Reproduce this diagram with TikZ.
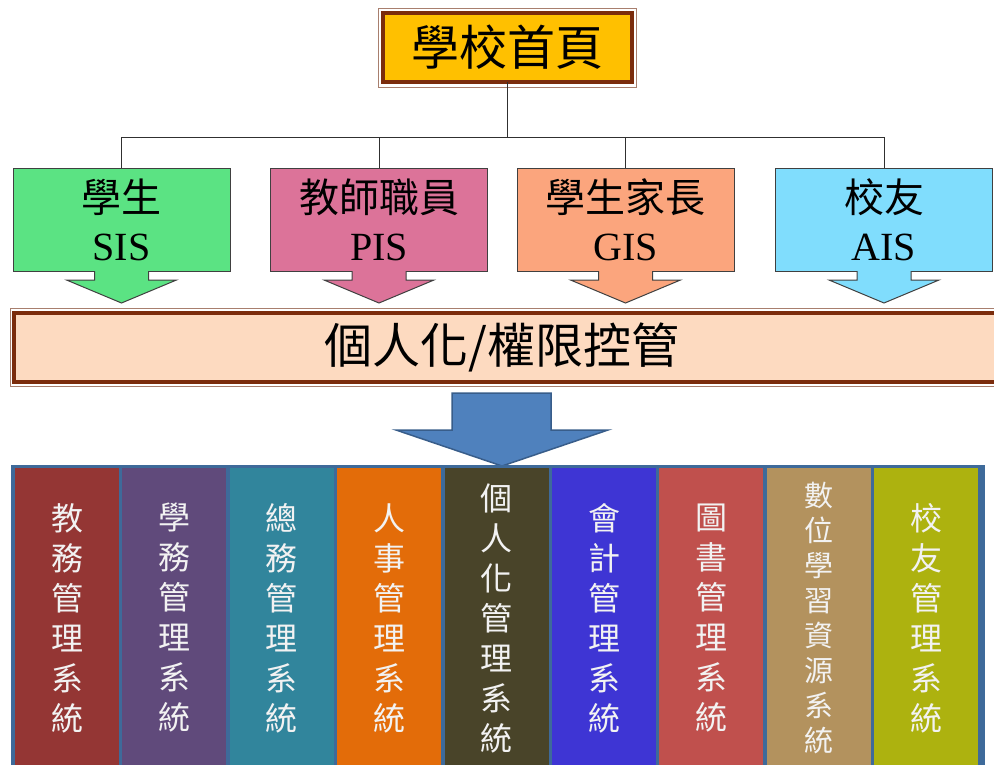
\documentclass[tikz,border=0pt]{standalone}
\usepackage{fontspec}
\setmainfont{Noto Sans CJK TC}
\newfontfamily\latinserif{Liberation Serif}
\usetikzlibrary{positioning}
\usetikzlibrary{calc}

\begin{document}
\begin{tikzpicture}[x=1pt,y=-1pt,node distance=107.4pt,
	home node/.style={rectangle,fill=gold,draw=brickline,line width=4pt,outer sep=0pt,
		minimum width=249pt,minimum height=69pt,font=\fontsize{48}{48}\selectfont},
	box node/.style={rectangle,draw=boxline,line width=1pt,outer sep=0pt,
		minimum width=217pt,minimum height=103pt,align=center,font=\fontsize{40}{48}\selectfont},
	sys node/.style={rectangle,minimum width=104pt,minimum height=300pt,inner sep=0pt,
		outer sep=0pt,align=center,text=systext,font=\fontsize{32}{40}\selectfont},
	frame line/.style={draw=frameline,line width=0.8pt},
	tree line/.style={draw=treeline,line width=1pt}]
	
	\definecolor{gold}{HTML}{FFC000}
	\definecolor{brickline}{HTML}{7B2C0C}
	\definecolor{frameline}{HTML}{A87F6E}
	\definecolor{boxline}{HTML}{404040}
	\definecolor{treeline}{HTML}{303030}
	\definecolor{gre}{HTML}{5BE383}
	\definecolor{pnk}{HTML}{DC7399}
	\definecolor{org}{HTML}{FBA57D}
	\definecolor{cyn}{HTML}{80DDFD}
	\definecolor{peach}{HTML}{FDDAC0}
	\definecolor{arrowblue}{HTML}{4F81BD}
	\definecolor{arrowline}{HTML}{385D8A}
	\definecolor{panelblue}{HTML}{3E6A9A}
	\definecolor{systext}{HTML}{F2F2F2}
	\definecolor{colA}{HTML}{943634}
	\definecolor{colB}{HTML}{604A7B}
	\definecolor{colC}{HTML}{31859C}
	\definecolor{colD}{HTML}{E36C09}
	\definecolor{colE}{HTML}{494429}
	\definecolor{colF}{HTML}{3E35D4}
	\definecolor{colG}{HTML}{C0504D}
	\definecolor{colH}{HTML}{B3925E}
	\definecolor{colI}{HTML}{ADB20F}
	
	\useasboundingbox (0,0) rectangle (994,764);
	
	% home page
	\node[home node] (home) at (507.5,47.5) {學校首頁};
	\draw[frame line] ($(home.north west)+(-4.5,-4.5)$) rectangle ($(home.south east)+(4.5,5.5)$);
	
	% user groups
	\node[box node, fill=gre] (sis) at (121.5,219.5) {學生\\{\latinserif\fontsize{40}{48}\selectfont SIS}};
	\node[box node, fill=pnk] (pis) at (379,219.5) {教師職員\\{\latinserif\fontsize{40}{48}\selectfont PIS}};
	\node[box node, fill=org] (gis) at (625.5,219.5) {學生家長\\{\latinserif\fontsize{40}{48}\selectfont GIS}};
	\node[box node, fill=cyn] (ais) at (884,219.5) {校友\\{\latinserif\fontsize{40}{48}\selectfont AIS}};
	
	\foreach \n/\c in {sis/gre,pis/pnk,gis/org,ais/cyn} {
		\fill[\c] ($(\n.south)+(-27,-1)$) -- ($(\n.south)+(27,-1)$) -- ($(\n.south)+(27,9)$)
			-- ($(\n.south)+(55,9)$) -- ($(\n.south)+(0,32)$) -- ($(\n.south)+(-55,9)$)
			-- ($(\n.south)+(-27,9)$) -- cycle;
		\draw[boxline,line width=1pt] ($(\n.south)+(-27,0)$) -- ++(0,9) -- ++(-28,0)
			-- ($(\n.south)+(0,32)$) -- ($(\n.south)+(55,9)$) -- ++(-28,0) -- ++(0,-9);
	}
	
	\coordinate (bus) at ($(home.south)+(0,55)$);
	\draw[tree line] (home.south) -- (bus);
	\foreach \n in {sis,pis,gis,ais}
		\draw[tree line] (bus) -| (\n.north);
	
	% personalisation bar
	\draw[frame line] (10,308) rectangle (1020,386);
	\draw[fill=peach,draw=brickline,line width=4pt] (14,312.5) rectangle (1016,381.5);
	\node[font=\fontsize{48}{48}\selectfont] (ctrl) at (502,347) {個人化/權限控管};
	
	% big arrow
	\filldraw[fill=arrowblue,draw=arrowline,line width=1.5pt] (452,393) -- (551,393) -- (551,430)
		-- (608,430) -- (502,466) -- (396,430) -- (452,430) -- cycle;
	
	% systems
	\draw[fill=panelblue,draw=panelblue,line width=3pt] (12,466) rectangle (983,800);
	
	\node[sys node, fill=colA] (jw) at (67,618) {教\\務\\管\\理\\系\\統};
	\node[sys node, fill=colB] (xw) [right of=jw] {學\\務\\管\\理\\系\\統};
	\node[sys node, fill=colC] (zw) [right of=xw] {總\\務\\管\\理\\系\\統};
	\node[sys node, fill=colD] (rs) [right of=zw] {人\\事\\管\\理\\系\\統};
	\node[sys node, fill=colE] (grh) [right of=rs] {個\\人\\化\\管\\理\\系\\統};
	\node[sys node, fill=colF] (kj) [right of=grh] {會\\計\\管\\理\\系\\統};
	\node[sys node, fill=colG] (ts) [right of=kj] {圖\\書\\管\\理\\系\\統};
	\node[sys node, fill=colH, font=\fontsize{29}{35}\selectfont] (sw) [right of=ts] {數\\位\\學\\習\\資\\源\\系\\統};
	\node[sys node, fill=colI] (xy) [right of=sw] {校\\友\\管\\理\\系\\統};
\end{tikzpicture}
\end{document}
